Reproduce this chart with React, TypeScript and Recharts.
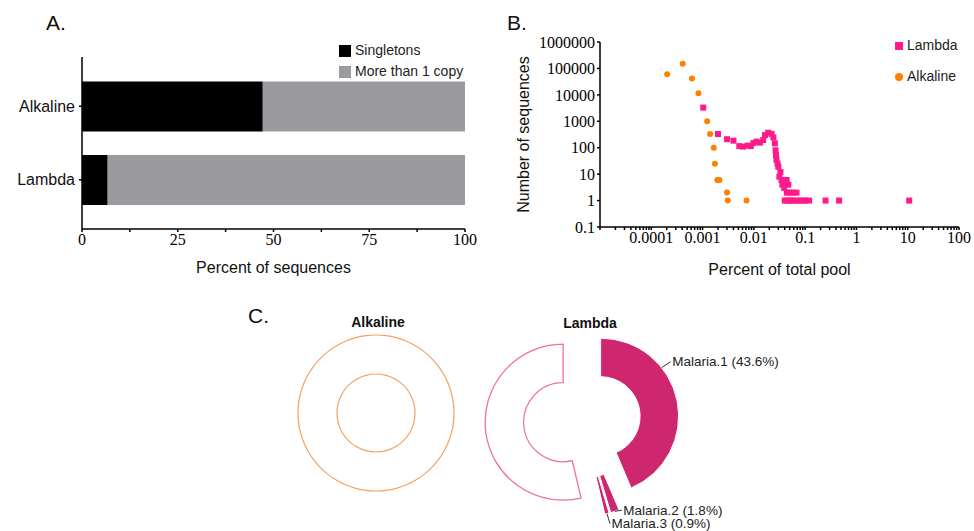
import React from "react";
import {
  BarChart,
  Bar,
  XAxis,
  YAxis,
  Legend,
  ScatterChart,
  Scatter,
  PieChart,
  Pie,
  Cell,
} from "recharts";

const SANS = '"Liberation Sans", Arial, sans-serif';
const SERIF = '"Liberation Serif", "Times New Roman", serif';

// A. singletons vs multi-copy sequences, per library
const libraries = ["Alkaline", "Lambda"];
const singletonPct = [47.2, 6.7];
const multiCopyPct = [52.8, 93.3];
const pctTicks = [0, 12.5, 25, 37.5, 50, 62.5, 75, 87.5, 100];
const pctTickLabels = ["0", "", "25", "", "50", "", "75", "", "100"];
const barSeriesOrder = ["Singletons", "More than 1 copy"];

// B. copy-number distribution (percent of pool vs number of sequences)
const lambdaPoolPct = [
  0.00103, 0.002, 0.003, 0.004, 0.0052, 0.0062, 0.0075, 0.0087, 0.0098, 0.0113,
  0.0131, 0.0152, 0.0165, 0.0191, 0.0222, 0.024, 0.0257, 0.0265, 0.027, 0.0276,
  0.029, 0.03, 0.0314, 0.033, 0.0347, 0.036, 0.038, 0.0435, 0.047, 0.039, 0.044,
  0.05, 0.059, 0.068, 0.04, 0.045, 0.05, 0.055, 0.06, 0.07, 0.08, 0.09, 0.1,
  0.12, 0.25, 0.46, 10.7,
];
const lambdaSeqCount = [
  3300, 330, 210, 185, 115, 110, 120, 115, 150, 170, 155, 195, 300, 370, 330,
  245, 147, 80, 53, 35, 25, 19, 8, 12, 6, 4, 5, 6, 4, 3, 2, 2, 2, 2, 1, 1, 1, 1,
  1, 1, 1, 1, 1, 1, 1, 1, 1,
];
const alkalinePoolPct = [
  0.000204, 0.00041, 0.00062, 0.00083, 0.00123, 0.0014, 0.00165, 0.00174,
  0.00194, 0.00213, 0.003, 0.0031, 0.0072,
];
const alkalineSeqCount = [
  60000, 150000, 42000, 11500, 1000, 330, 100, 25, 6, 6, 2, 1, 1,
];
const scatterSeriesOrder = ["Lambda", "Alkaline"];
const poolDecades = [0.00001, 0.0001, 0.001, 0.01, 0.1, 1, 10, 100];
const poolDecadeLabels = ["", "0.0001", "0.001", "0.01", "0.1", "1", "10", "100"];
const countTicks = [0.1, 1, 10, 100, 1000, 10000, 100000, 1000000];
const countTickLabels = ["0.1", "1", "10", "100", "1000", "10000", "100000", "1000000"];

// C. share of malaria-binding sequences
const alkalineSliceNames = ["Other"];
const alkalineSliceValues = [100];
const lambdaSliceNames = ["Malaria.1", "Malaria.2", "Malaria.3", "Other"];
const lambdaSliceValues = [43.6, 1.8, 0.9, 53.7];

const barData = libraries.map((name, i) => ({
  name,
  singletons: singletonPct[i],
  multi: multiCopyPct[i],
}));
const lambdaPoints = lambdaPoolPct.map((x, i) => ({ x, y: lambdaSeqCount[i] }));
const alkalinePoints = alkalinePoolPct.map((x, i) => ({ x, y: alkalineSeqCount[i] }));
const poolTicks = [
  ...poolDecades,
  ...poolDecades.slice(0, -1).flatMap((d) =>
    [2, 3, 4, 5, 6, 7, 8, 9].map((k) => +(d * k).toPrecision(3))
  ),
].sort((a, b) => a - b);
const alkalineSlices = alkalineSliceNames.map((name, i) => ({
  name,
  value: alkalineSliceValues[i],
}));
const lambdaSlices = lambdaSliceNames.map((name, i) => ({
  name,
  value: lambdaSliceValues[i],
}));

const PINK = "#FF1A8C";
const ORANGE = "#FF7F00";
const GRAY = "#9B9A9E";
const ALK_RING = "#F5A060";
const MALARIA = "#CF2670";
const OTHER_LINE = "#EE70AA";
const EXPLODE = 19;

// mid angle of each lambda slice (degrees, recharts convention)
const lambdaTotal = lambdaSliceValues.reduce((a, b) => a + b, 0);
const lambdaMid = lambdaSliceValues.map((v, i) => {
  const before = lambdaSliceValues.slice(0, i).reduce((a, b) => a + b, 0);
  return 90 - ((before + v / 2) / lambdaTotal) * 360;
});
const RAD = Math.PI / 180;

const labelNudge: Record<string, { angle: number; dx: number; dy: number }> = {
  "Malaria.1": { angle: 27, dx: 9, dy: -6 },
  "Malaria.2": { angle: 0, dx: 7, dy: -1 },
  "Malaria.3": { angle: 0, dx: 3, dy: 10 },
};

function LambdaLabel(props: any) {
  const { cx, cy, midAngle, outerRadius, index } = props;
  const name = lambdaSliceNames[index];
  const nudge = labelNudge[name];
  if (!nudge) return null;
  const ex = cx + EXPLODE * Math.cos(midAngle * RAD);
  const ey = cy - EXPLODE * Math.sin(midAngle * RAD);
  const a = (midAngle + nudge.angle) * RAD;
  const sx = ex + outerRadius * Math.cos(a);
  const sy = ey - outerRadius * Math.sin(a);
  const tx = sx + nudge.dx;
  const ty = sy + nudge.dy;
  return (
    <g>
      <line x1={sx} y1={sy} x2={tx} y2={ty} stroke="#333" strokeWidth={1} />
      <text
        x={tx + 1.5}
        y={ty}
        dominantBaseline="central"
        textAnchor="start"
        fontFamily={SANS}
        fontSize={13.5}
        fill="#222"
      >
        {`${name} (${lambdaSliceValues[index]}%)`}
      </text>
    </g>
  );
}

const SquareDot = (props: any) => (
  <rect x={props.cx - 3} y={props.cy - 3} width={6} height={6} fill={PINK} />
);
const RoundDot = (props: any) => (
  <circle cx={props.cx} cy={props.cy} r={3} fill={ORANGE} />
);

const letter = (text: string, left: number, top: number) => (
  <div
    style={{
      position: "absolute",
      left,
      top,
      fontFamily: SANS,
      fontSize: 21,
      lineHeight: 1,
      color: "#111",
    }}
  >
    {text}
  </div>
);

const pieTitle = (text: string, centerX: number, top: number) => (
  <div
    style={{
      position: "absolute",
      left: centerX,
      top,
      transform: "translateX(-50%)",
      fontFamily: SANS,
      fontSize: 14,
      fontWeight: "bold",
      lineHeight: 1,
      color: "#111",
    }}
  >
    {text}
  </div>
);

const poolLabel = (v: number) => {
  const i = poolDecades.findIndex((d) => Math.abs(d - v) / d < 1e-6);
  return i >= 0 ? poolDecadeLabels[i] : "";
};
const countLabel = (v: number) => {
  const i = countTicks.findIndex((d) => Math.abs(d - v) / d < 1e-6);
  return i >= 0 ? countTickLabels[i] : "";
};

export default function App() {
  return (
    <div
      style={{
        position: "absolute",
        left: 0,
        top: 0,
        width: 974,
        height: 531,
        background: "#fff",
        fontFamily: SANS,
      }}
    >
      {letter("A.", 46, 12)}
      {letter("B.", 507, 12)}
      {letter("C.", 248, 305)}

      <div style={{ position: "absolute", left: 0, top: 0 }}>
        <BarChart
          width={480}
          height={290}
          data={barData}
          layout="vertical"
          margin={{ top: 57, right: 15, bottom: 28, left: 0 }}
        >
          <XAxis
            type="number"
            domain={[0, 100]}
            ticks={pctTicks}
            tickFormatter={(v: number) => pctTickLabels[pctTicks.indexOf(v)] ?? ""}
            height={33}
            stroke="#000"
            strokeWidth={1.5}
            tickSize={3}
            tick={{ fontFamily: SERIF, fontSize: 16, fill: "#000" }}
            label={{
              value: "Percent of sequences",
              position: "bottom",
              offset: 0,
              style: { fontFamily: SANS, fontSize: 16, fill: "#111" },
            }}
          />
          <YAxis
            type="category"
            dataKey="name"
            width={82}
            padding={{ top: 12.5, bottom: 12.5 }}
            stroke="#000"
            strokeWidth={1.5}
            tickSize={3}
            tickMargin={4}
            tick={{ fontFamily: SANS, fontSize: 16, fill: "#111" }}
          />
          <Legend
            layout="vertical"
            verticalAlign="middle"
            align="center"
            iconType="square"
            iconSize={12}
            itemSorter={(item: any) => barSeriesOrder.indexOf(item.value)}
            wrapperStyle={{
              top: 40,
              left: 339,
              right: "auto",
              width: 140,
              lineHeight: "21px",
              fontFamily: SANS,
              fontSize: 14,
              textAlign: "left",
            }}
            formatter={(v: string) => <span style={{ color: "#222" }}>{v}</span>}
          />
          <Bar
            dataKey="singletons"
            name="Singletons"
            stackId="a"
            fill="#000"
            barSize={50}
            isAnimationActive={false}
          />
          <Bar
            dataKey="multi"
            name="More than 1 copy"
            stackId="a"
            fill={GRAY}
            barSize={50}
            isAnimationActive={false}
          />
        </BarChart>
      </div>

      <div style={{ position: "absolute", left: 480, top: 0 }}>
        <ScatterChart
          width={494}
          height={300}
          margin={{ top: 42, right: 15, bottom: 33, left: 0 }}
        >
          <XAxis
            type="number"
            dataKey="x"
            scale="log"
            domain={[0.00001, 100]}
            allowDataOverflow
            ticks={poolTicks}
            interval={0}
            tickFormatter={poolLabel}
            height={40}
            stroke="#000"
            strokeWidth={1.5}
            tickSize={3}
            tick={{ fontFamily: SERIF, fontSize: 16, fill: "#000" }}
            label={{
              value: "Percent of total pool",
              position: "bottom",
              offset: -3,
              style: { fontFamily: SANS, fontSize: 16, fill: "#111" },
            }}
          />
          <YAxis
            type="number"
            dataKey="y"
            scale="log"
            domain={[0.1, 1000000]}
            allowDataOverflow
            ticks={countTicks}
            interval={0}
            tickFormatter={countLabel}
            width={120}
            stroke="#000"
            strokeWidth={1.5}
            tickSize={3}
            tick={{ fontFamily: SERIF, fontSize: 16, fill: "#000" }}
            label={{
              value: "Number of sequences",
              angle: -90,
              position: "center",
              dx: -17,
              style: { fontFamily: SANS, fontSize: 16, fill: "#111" },
            }}
          />
          <Legend
            layout="vertical"
            verticalAlign="middle"
            align="center"
            iconSize={8}
            itemSorter={(item: any) => scatterSeriesOrder.indexOf(item.value)}
            wrapperStyle={{
              top: 30,
              left: 415,
              right: "auto",
              width: 80,
              lineHeight: "31px",
              fontFamily: SANS,
              fontSize: 14,
              textAlign: "left",
            }}
            formatter={(v: string) => <span style={{ color: "#222" }}>{v}</span>}
          />
          <Scatter
            name="Lambda"
            data={lambdaPoints}
            fill={PINK}
            shape={SquareDot}
            legendType="square"
            isAnimationActive={false}
          />
          <Scatter
            name="Alkaline"
            data={alkalinePoints}
            fill={ORANGE}
            shape={RoundDot}
            legendType="circle"
            isAnimationActive={false}
          />
        </ScatterChart>
      </div>

      {pieTitle("Alkaline", 378, 315)}
      {pieTitle("Lambda", 590, 316)}
      <div style={{ position: "absolute", left: 250, top: 300 }}>
        <PieChart width={724} height={231} margin={{ top: 0, right: 0, bottom: 0, left: 0 }}>
          <Pie
            data={alkalineSlices}
            dataKey="value"
            nameKey="name"
            cx={126}
            cy={113}
            innerRadius={77.4}
            outerRadius={78.6}
            startAngle={90}
            endAngle={-270}
            fill={ALK_RING}
            stroke="none"
            isAnimationActive={false}
          />
          <Pie
            data={alkalineSlices}
            dataKey="value"
            nameKey="name"
            cx={126}
            cy={113}
            innerRadius={38.4}
            outerRadius={39.6}
            startAngle={90}
            endAngle={-270}
            fill={ALK_RING}
            stroke="none"
            isAnimationActive={false}
          />
          <Pie
            data={lambdaSlices}
            dataKey="value"
            nameKey="name"
            cx={332}
            cy={120}
            innerRadius={39.5}
            outerRadius={78}
            startAngle={90}
            endAngle={-270}
            label={LambdaLabel}
            labelLine={false}
            isAnimationActive={false}
          >
            {lambdaSlices.map((s, i) => {
              const dx = EXPLODE * Math.cos(lambdaMid[i] * RAD);
              const dy = -EXPLODE * Math.sin(lambdaMid[i] * RAD);
              const isOther = s.name === "Other";
              return (
                <Cell
                  key={s.name}
                  fill={isOther ? "#fff" : MALARIA}
                  stroke={isOther ? OTHER_LINE : "#fff"}
                  strokeWidth={isOther ? 1.3 : 1}
                  transform={`translate(${dx.toFixed(2)}, ${dy.toFixed(2)})`}
                />
              );
            })}
          </Pie>
        </PieChart>
      </div>
    </div>
  );
}
